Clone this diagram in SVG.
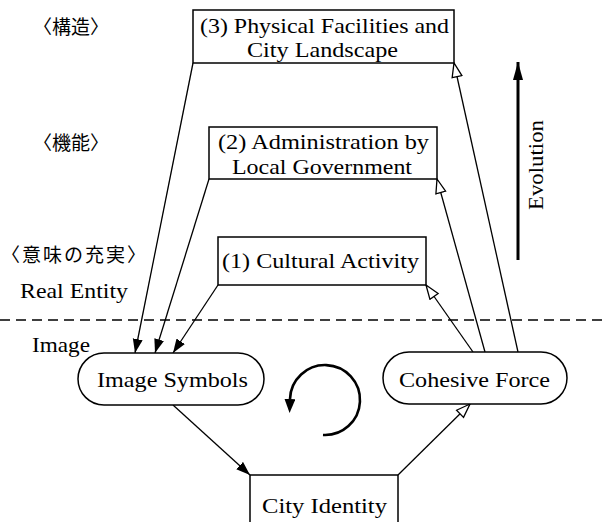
<svg xmlns="http://www.w3.org/2000/svg" width="603" height="522" viewBox="0 0 603 522">
<style>
.t{font-family:"Liberation Serif","Times New Roman",serif;font-size:22px;fill:#000}
.j{font-family:"Noto Sans CJK JP","Noto Sans CJK SC",sans-serif;font-size:19px;fill:#000}
.box{fill:#fff;stroke:#000;stroke-width:1.5}
.ln{fill:none;stroke:#000;stroke-width:1.3}
</style>
<defs>
<marker id="solid" markerUnits="userSpaceOnUse" markerWidth="16" markerHeight="12" refX="14" refY="5" orient="auto">
<path d="M0,0 L14,5 L0,10 z" fill="#000"/>
</marker>
<marker id="hollow" markerUnits="userSpaceOnUse" markerWidth="18" markerHeight="14" refX="15" refY="6" orient="auto">
<path d="M1,1 L15,6 L1,11 z" fill="#fff" stroke="#000" stroke-width="1.3"/>
</marker>
<marker id="evo" markerUnits="userSpaceOnUse" markerWidth="20" markerHeight="12" refX="18" refY="5" orient="auto">
<path d="M0,0 L18,5 L0,10 z" fill="#000"/>
</marker>
<marker id="circ" markerUnits="userSpaceOnUse" markerWidth="16" markerHeight="14" refX="0" refY="5.5" orient="auto">
<path d="M0,0 L14,5.5 L0,11 z" fill="#000"/>
</marker>
</defs>

<g id="labels">
<text class="j" x="33" y="34">〈構造〉</text>
<text class="j" x="33" y="150">〈機能〉</text>
<text class="j" x="1" y="262" textLength="145" lengthAdjust="spacing">〈意味の充実〉</text>
<text class="t" x="20" y="298" textLength="108" lengthAdjust="spacingAndGlyphs">Real Entity</text>
<text class="t" x="32" y="352" textLength="58" lengthAdjust="spacingAndGlyphs">Image</text>
</g>

<g id="divider">
<line x1="0" y1="320" x2="603" y2="320" stroke="#000" stroke-width="1.6" stroke-dasharray="10 6"/>
</g>

<g id="connectors">
<line class="ln" x1="193" y1="63" x2="135" y2="353" marker-end="url(#solid)"/>
<line class="ln" x1="209" y1="179" x2="155" y2="353" marker-end="url(#solid)"/>
<line class="ln" x1="218" y1="285" x2="173" y2="353" marker-end="url(#solid)"/>
<line class="ln" x1="518" y1="352" x2="454" y2="63" marker-end="url(#hollow)"/>
<line class="ln" x1="485" y1="352" x2="437" y2="179" marker-end="url(#hollow)"/>
<line class="ln" x1="473" y1="352" x2="426" y2="285" marker-end="url(#hollow)"/>
<line class="ln" x1="173" y1="405" x2="250" y2="475" marker-end="url(#solid)"/>
<line class="ln" x1="398" y1="475" x2="470" y2="404" marker-end="url(#hollow)"/>
<line x1="518" y1="260" x2="518" y2="62" stroke="#000" stroke-width="3" marker-end="url(#evo)"/>
<path d="M323,435 A35,35 0 1 0 290,399" fill="none" stroke="#000" stroke-width="2.6" marker-end="url(#circ)"/>
</g>

<g id="evolution">
<text class="t" transform="translate(543,165) rotate(-90)" text-anchor="middle" textLength="90" lengthAdjust="spacingAndGlyphs">Evolution</text>
</g>

<g id="node3">
<rect class="box" x="193" y="10" width="261" height="53"/>
<text class="t" x="200" y="33" textLength="249" lengthAdjust="spacingAndGlyphs">(3) Physical Facilities and</text>
<text class="t" x="247" y="57" textLength="151" lengthAdjust="spacingAndGlyphs">City Landscape</text>
</g>

<g id="node2">
<rect class="box" x="209" y="127" width="228" height="52"/>
<text class="t" x="218" y="149" textLength="211" lengthAdjust="spacingAndGlyphs">(2) Administration by</text>
<text class="t" x="232" y="174" textLength="180" lengthAdjust="spacingAndGlyphs">Local Government</text>
</g>

<g id="node1">
<rect class="box" x="218" y="237" width="208" height="48"/>
<text class="t" x="222" y="268" textLength="197" lengthAdjust="spacingAndGlyphs">(1) Cultural Activity</text>
</g>

<g id="imageSymbols">
<rect class="box" x="78" y="353" width="186" height="52" rx="26" ry="26"/>
<text class="t" x="97" y="387" textLength="151" lengthAdjust="spacingAndGlyphs">Image Symbols</text>
</g>

<g id="cohesiveForce">
<rect class="box" x="383" y="352" width="184" height="52" rx="26" ry="26"/>
<text class="t" x="399" y="387" textLength="151" lengthAdjust="spacingAndGlyphs">Cohesive Force</text>
</g>

<g id="cityIdentity">
<rect class="box" x="250" y="475" width="148" height="60"/>
<text class="t" x="262" y="513" textLength="125" lengthAdjust="spacingAndGlyphs">City Identity</text>
</g>
</svg>
